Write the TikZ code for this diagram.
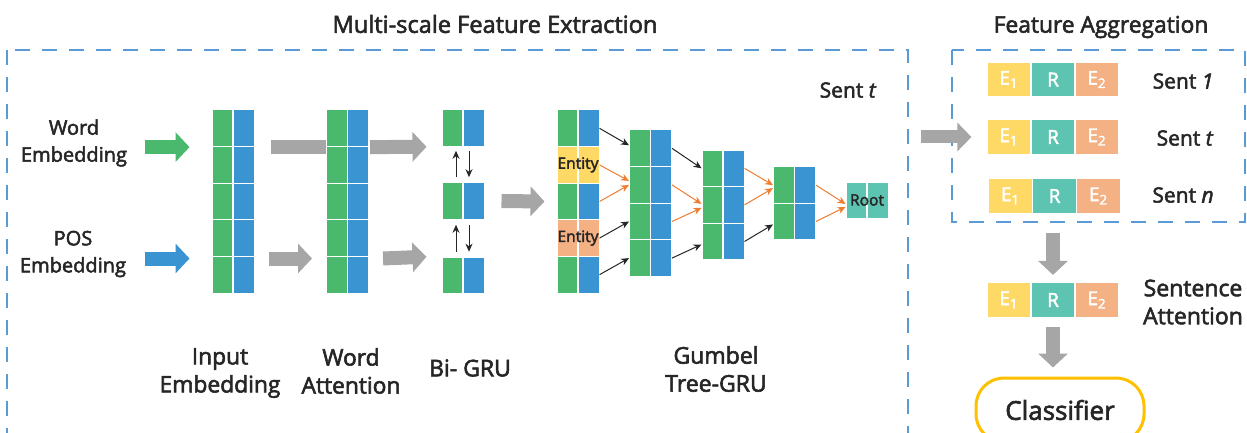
\documentclass[tikz,border=0pt]{standalone}
\usepackage{fontspec}
\setmainfont{Open Sans}[FakeBold=2.5]
\usepackage{tikz}
\usepackage{xcolor}
\usetikzlibrary{arrows.meta,backgrounds,calc}

\definecolor{cgreen}{HTML}{4AB96D}
\definecolor{cblue}{HTML}{3A94D1}
\definecolor{cyellow}{HTML}{FFD966}
\definecolor{cpeach}{HTML}{F4B183}
\definecolor{cteal}{HTML}{5DC4B2}
\definecolor{corange}{HTML}{ED7D31}
\definecolor{cdash}{HTML}{5B9BD5}
\definecolor{cgold}{HTML}{FFC000}
\definecolor{cgrey}{HTML}{A6A6A6}
\definecolor{ctext}{HTML}{262626}

\tikzset{
  gbrow/.style={minimum width=21pt, minimum height=18.3pt, inner sep=0pt,
    draw=white, line width=0.5pt,
    path picture={
      \fill[cgreen] (path picture bounding box.south west) rectangle (path picture bounding box.north);
      \fill[cblue] (path picture bounding box.south) rectangle (path picture bounding box.north east);
      \draw[white, line width=0.8pt] (path picture bounding box.south) -- (path picture bounding box.north);
    }},
  entrow/.style={minimum width=21pt, minimum height=18.3pt, inner sep=0pt,
    draw=white, line width=0.5pt, text=ctext, font=\fontsize{7.8}{9}\selectfont,
    path picture={
      \draw[white, line width=0.8pt] (path picture bounding box.south) -- (path picture bounding box.north);
    }},
  slot/.style={minimum width=22pt, minimum height=17.5pt, inner sep=0pt,
    draw=white, line width=0.6pt, text=white, font=\fontsize{9.5}{10}\selectfont},
  lbl/.style={text=ctext, align=center, inner sep=0pt, font=\fontsize{11.4}{14}\selectfont},
  dashbox/.style={draw=cdash, line width=1.4pt, dash pattern=on 7.5pt off 6pt},
  greyarr/.style={draw=cgrey, line width=7pt, -{Triangle[length=7pt,width=14.5pt]}},
  tarr/.style={draw=black!85, line width=0.5pt, -{Stealth[length=4pt,width=3.5pt]}},
  oarr/.style={draw=corange, line width=0.5pt, -{Stealth[length=4pt,width=3.5pt]}}
}

\begin{document}
\begin{tikzpicture}[x=0.5pt,y=-0.5pt]
\clip (0,0) rectangle (1247,433);

% frames
\draw[dashbox] (7,50) rectangle (908,470);
\draw[dashbox] (952,50) rectangle (1245,222);
\node[lbl, font=\fontsize{11.8}{14}\selectfont] (ttl-ext) at (495,24) {Multi-scale Feature Extraction};
\node[lbl] (ttl-agg) at (1101,27) {Feature Aggregation};

% inputs
\node[lbl, font=\fontsize{10}{13.5}\selectfont] (wemb) at (74,143) {Word\\Embedding};
\node[lbl, font=\fontsize{10}{13.5}\selectfont] (pemb) at (73,254) {POS\\Embedding};

% columns
\foreach \i in {1,...,5}{
  \node[gbrow] (in-\i) at (233,{110+36.6*(\i-0.5)}) {};
  \node[gbrow] (wa-\i) at (347.5,{110+36.6*(\i-0.5)}) {};
}
\node[gbrow] (bi-1) at (463,128) {};
\node[gbrow] (bi-2) at (463,201) {};
\node[gbrow] (bi-3) at (463,275.5) {};

% gumbel tree
\node[gbrow] (lf-1) at (578,128.3) {};
\node[entrow, fill=cyellow] (lf-2) at (578,164.9) {Entity};
\node[gbrow] (lf-3) at (578,201.5) {};
\node[entrow, fill=cpeach] (lf-4) at (578,238.1) {Entity};
\node[gbrow] (lf-5) at (578,274.7) {};
\foreach \i in {1,...,4}
  \node[gbrow] (gt2-\i) at (650.5,{130+36.6*(\i-0.5)}) {};
\foreach \i in {1,...,3}
  \node[gbrow] (gt3-\i) at (723,{150+36.6*(\i-0.5)}) {};
\foreach \i in {1,2}
  \node[gbrow] (gt4-\i) at (794.5,{167+36.3*(\i-0.5)}) {};
\node[entrow, fill=cteal, minimum height=18pt] (root) at (867,200) {Root};

\draw[tarr] (lf-1.east) -- ([yshift=1.5pt]gt2-1.west);
\draw[oarr] (lf-2.east) -- ([yshift=2pt]gt2-2.west);
\draw[oarr] (lf-3.east) -- (gt2-2.west);
\draw[tarr] (lf-4.east) -- (gt2-3.west);
\draw[tarr] (lf-5.east) -- (gt2-4.west);
\draw[tarr] (gt2-1.east) -- (gt3-1.west);
\draw[oarr] (gt2-2.east) -- ([yshift=0.5pt]gt3-2.west);
\draw[oarr] (gt2-3.east) -- ([yshift=-1.5pt]gt3-2.west);
\draw[tarr] (gt2-4.east) -- ([yshift=-1.5pt]gt3-3.west);
\draw[oarr] (gt3-1.east) -- (gt4-1.west);
\draw[oarr] (gt3-2.east) -- ([yshift=-1.5pt]gt4-1.west);
\draw[tarr] (gt3-3.east) -- ([yshift=-1.5pt]gt4-2.west);
\draw[oarr] (gt4-1.east) -- ([yshift=-2pt]root.west);
\draw[oarr] (gt4-2.east) -- ([yshift=-3.5pt]root.west);

% bi-gru links
\draw[tarr] ([xshift=-3.5pt,yshift=2.5pt]bi-2.north) -- ([xshift=-3.5pt,yshift=-2pt]bi-1.south);
\draw[tarr] ([xshift=3pt,yshift=-2pt]bi-1.south) -- ([xshift=3pt,yshift=2.5pt]bi-2.north);
\draw[tarr] ([xshift=-3.5pt,yshift=2.5pt]bi-3.north) -- ([xshift=-3.5pt,yshift=-2.5pt]bi-2.south);
\draw[tarr] ([xshift=3pt,yshift=-2.5pt]bi-2.south) -- ([xshift=3pt,yshift=2.5pt]bi-3.north);

% block arrows
\begin{pgfonlayer}{background}
\draw[greyarr] ([xshift=8pt]in-1.south east) -- ([xshift=8pt]wa-1.south west);
\end{pgfonlayer}
\draw[greyarr, draw=cgreen] ([xshift=-33.5pt]in-1.south west) -- ([xshift=-11pt]in-1.south west);
\draw[greyarr, draw=cblue] ([xshift=-33.5pt,yshift=-0.8pt]in-4.south west) -- ([xshift=-11pt,yshift=-0.8pt]in-4.south west);
\draw[greyarr] ([xshift=0.5pt]wa-1.south east) -- ([xshift=-7.5pt]bi-1.south west);
\draw[greyarr] ([xshift=7pt,yshift=-0.8pt]in-4.south east) -- ([xshift=-7pt,yshift=-0.8pt]wa-4.south west);
\draw[greyarr] ([xshift=7pt,yshift=-0.8pt]wa-4.south east) -- ([xshift=-7.5pt]bi-3.north west);
\draw[greyarr] ([xshift=8.5pt]bi-2.east) -- ([xshift=-6pt]lf-3.west);

\node[lbl, font=\fontsize{10.5}{12}\selectfont] (snt) at (848,90) {Sent \textit{t}};

% bottom labels
\node[lbl] (lbl-in) at (220,373) {Input\\Embedding};
\node[lbl] (lbl-wa) at (351,371) {Word\\Attention};
\node[lbl, font=\fontsize{11.5}{14}\selectfont] (lbl-bi) at (470,368) {Bi- GRU};
\node[lbl, font=\fontsize{11.5}{14}\selectfont] (lbl-gt) at (716,369) {Gumbel\\Tree-GRU};

% aggregation
\foreach \r/\y/\xs in {s1/79.5/0, st/137/0, sn/196/1.5, sa/300/0}{
  \node[slot, fill=cyellow] (\r-e1) at ({1009+\xs},\y) {E\textsubscript{1}};
  \node[slot, fill=cteal] (\r-r) at ({1053+\xs},\y) {R};
  \node[slot, fill=cpeach] (\r-e2) at ({1097+\xs},\y) {E\textsubscript{2}};
}
\node[lbl, font=\fontsize{10.5}{12}\selectfont] (lbl-s1) at (1183,81) {Sent \textit{1}};
\node[lbl, font=\fontsize{10.5}{12}\selectfont] (lbl-st) at (1185,138) {Sent \textit{t}};
\node[lbl, font=\fontsize{10.5}{12}\selectfont] (lbl-sn) at (1183,195) {Sent \textit{n}};
\node[lbl, font=\fontsize{11.5}{14}\selectfont] (lbl-sa) at (1193,302) {Sentence\\Attention};

\node[draw=cgold, line width=1.5pt, rounded corners=14pt, minimum width=84pt, minimum height=32pt,
  text=ctext, font=\fontsize{13}{15}\selectfont] (clf) at (1060,410) {Classifier};

\draw[greyarr, line width=6.5pt, -{Triangle[length=7pt,width=14pt]}] ([xshift=-32.5pt]st-e1.west) -- ([xshift=-7.5pt]st-e1.west);
\draw[greyarr] ([yshift=24.5pt]sa-r.north) -- ([yshift=3.5pt]sa-r.north);
\draw[greyarr] ([yshift=-4.5pt]sa-r.south) -- ([yshift=4.5pt]sa-r.south |- clf.north);
\end{tikzpicture}
\end{document}
